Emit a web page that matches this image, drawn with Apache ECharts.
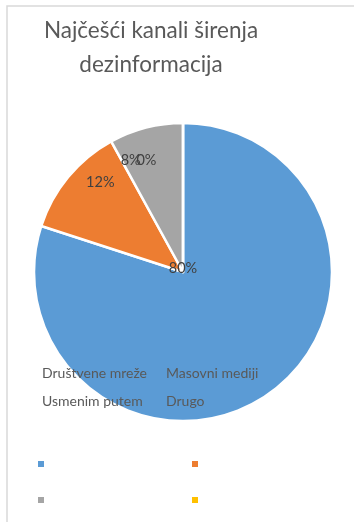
<!DOCTYPE html>
<html>
<head>
<meta charset="utf-8">
<script src="https://cdn.jsdelivr.net/npm/echarts@6/dist/echarts.min.js"></script>
<style>
  html, body { margin: 0; padding: 0; background: #fff; }
  #main { width: 354px; height: 522px; }
</style>
</head>
<body>
<div id="main"></div>
<script>
// podaci
var categories = ['Društvene mreže', 'Masovni mediji', 'Usmenim putem', 'Drugo'];
var shares = [80, 12, 8, 0];
var colors = ['#5B9BD5', '#ED7D31', '#A5A5A5', '#FFC000'];
var chartTitle = 'Najčešći kanali širenja\ndezinformacija';

var font = 'Lato';
var pieData = categories.map(function (name, i) {
  return { name: name, value: shares[i] };
});

// pomaci labela kao u excelu (0% i 8% se preklapaju)
var labelShift = [null, [15, -10], [-20, 10], [-36, 14]];
var labelData = categories.map(function (name, i) {
  var item = { name: name, value: shares[i] };
  if (i === 0) item.label = { show: false };
  else item.label = { offset: labelShift[i] };
  return item;
});

// tekst legende koji je "odletio" iznad kvadratića
var legendTexts = categories.map(function (name, i) {
  return {
    type: 'text',
    left: 42 + (i % 2) * 124,
    top: 366 + Math.floor(i / 2) * 28,
    z: 100,
    style: { text: name, fill: '#595959', font: '14px ' + font }
  };
});

var myChart = echarts.init(document.getElementById('main'));
var option = {
  color: colors,
  animation: false,
  title: {
    text: chartTitle,
    left: 146,
    top: 9,
    textAlign: 'center',
    textStyle: { fontSize: 22.5, fontWeight: 'normal', color: '#595959', fontFamily: font, lineHeight: 34, align: 'center' }
  },
  legend: [
    {
      data: categories.slice(0, 2),
      left: 36, top: 459, padding: 0,
      icon: 'rect', itemWidth: 8, itemHeight: 8,
      itemGap: 144,
      formatter: function () { return ''; },
      selectedMode: false
    },
    {
      data: categories.slice(2, 4),
      left: 36, top: 495, padding: 0,
      icon: 'rect', itemWidth: 8, itemHeight: 8,
      itemGap: 144,
      formatter: function () { return ''; },
      selectedMode: false
    }
  ],
  graphic: [
    {
      type: 'rect',
      shape: { x: 7, y: 6, width: 400, height: 600 },
      style: { fill: 'none', stroke: '#d9d9d9', lineWidth: 1.5 },
      silent: true
    }
  ].concat(legendTexts),
  series: [
    {
      name: 'udio',
      type: 'pie',
      center: [183, 272],
      radius: [0, 149],
      startAngle: 90,
      clockwise: true,
      itemStyle: { borderColor: '#fff', borderWidth: 2.5 },
      label: { show: false },
      labelLine: { show: false },
      emphasis: { disabled: true },
      data: pieData.map(function (d, i) {
        if (i === 0) {
          return {
            name: d.name, value: d.value,
            label: { show: true, position: 'center', formatter: '{c}%', fontFamily: font, fontSize: 14.5, color: '#404040', offset: [0, -4] }
          };
        }
        return d;
      }),
      z: 2
    },
    {
      name: 'labeli',
      type: 'pie',
      center: [183, 272],
      radius: [96, 150],
      startAngle: 90,
      clockwise: true,
      minAngle: 0.5,
      silent: true,
      itemStyle: { color: 'transparent', borderWidth: 0 },
      label: { show: true, position: 'inside', formatter: '{c}%', fontFamily: font, fontSize: 14.5, color: '#404040' },
      labelLine: { show: false },
      labelLayout: { hideOverlap: false },
      emphasis: { disabled: true },
      data: labelData,
      z: 3
    }
  ]
};
myChart.setOption(option);
</script>
</body>
</html>
